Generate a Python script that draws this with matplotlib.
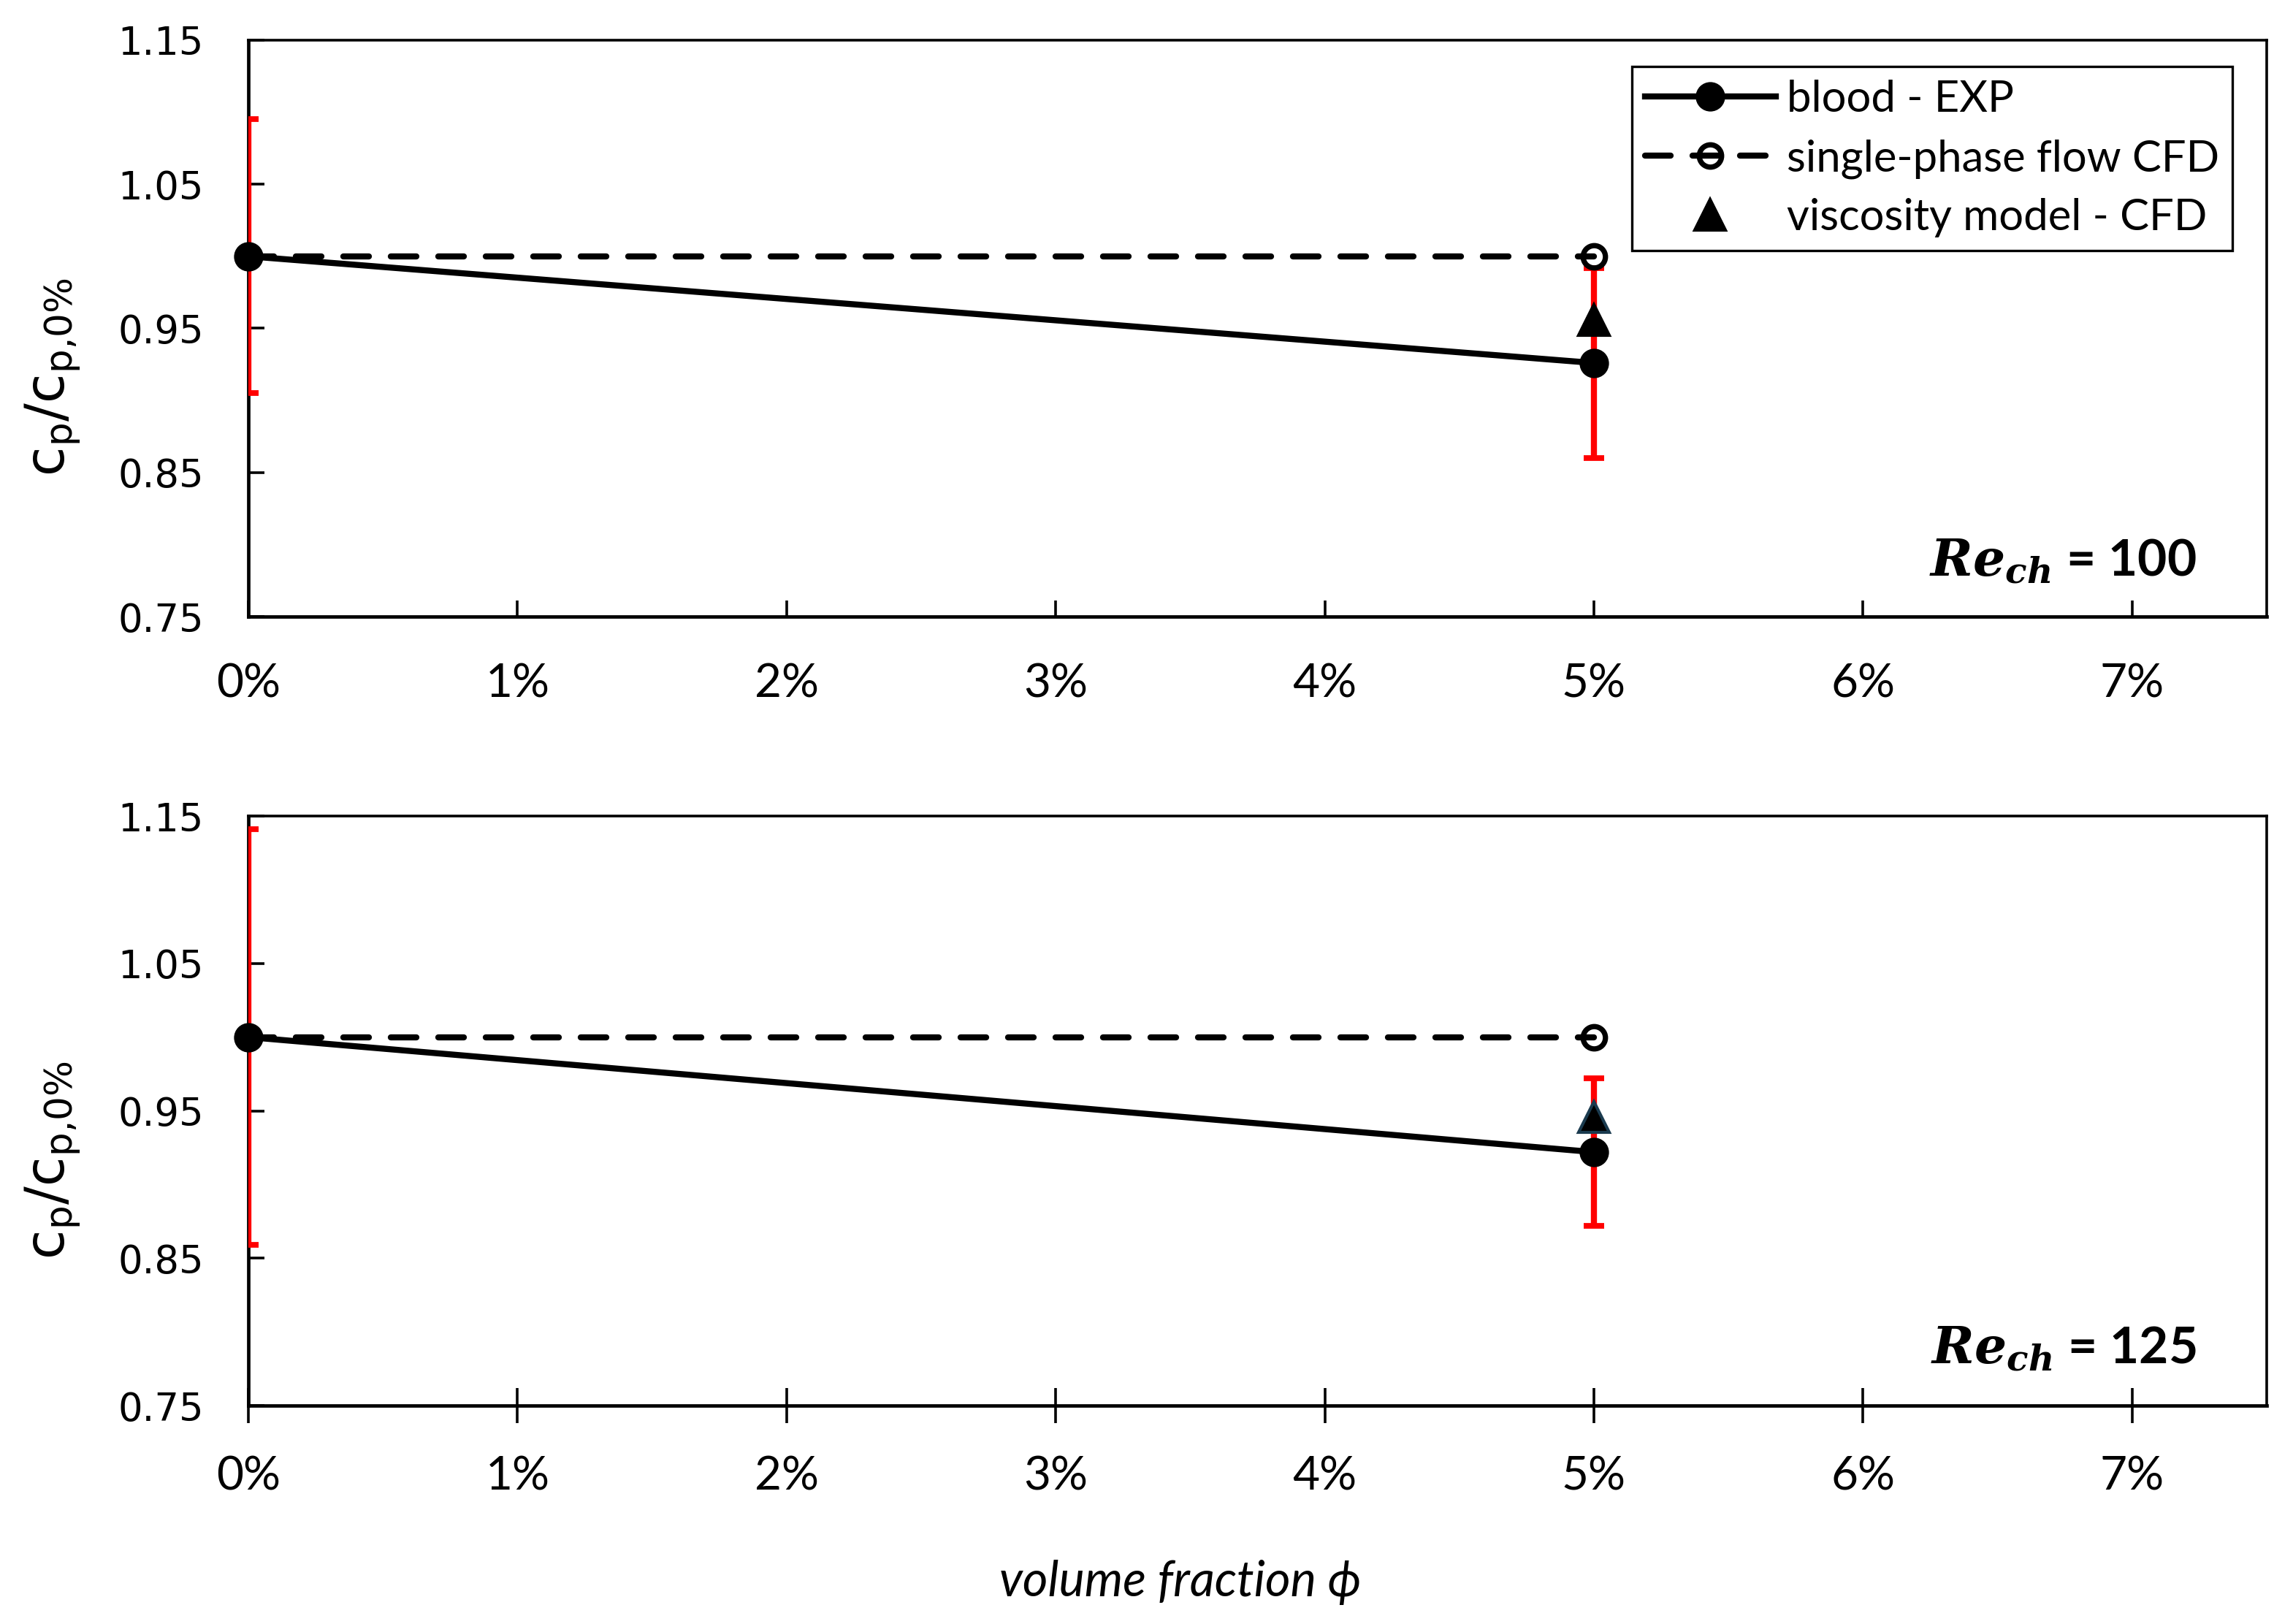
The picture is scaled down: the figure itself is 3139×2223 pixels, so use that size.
import numpy as np
import matplotlib.pyplot as plt
from matplotlib.ticker import FuncFormatter

plt.rcParams['mathtext.fontset'] = 'custom'
plt.rcParams['mathtext.it'] = 'DejaVu Serif:italic:bold'
plt.rcParams['mathtext.rm'] = 'DejaVu Serif:bold'

# data
phi = [0.0, 0.05]
re_labels = ['100', '125']

blood_exp = [[1.0, 0.926], [1.0, 0.922]]
blood_err = [[0.095, 0.066], [0.141, 0.050]]
single_cfd = [[1.0, 1.0], [1.0, 1.0]]
visc_cfd = [[0.956], [0.946]]
visc_edge = ['black', '#1b3b4f']

x_ticks = [0.0, 0.01, 0.02, 0.03, 0.04, 0.05, 0.06, 0.07]
y_ticks = [0.75, 0.85, 0.95, 1.05, 1.15]

tick_font = ['Lato', 'DejaVu Sans']

fig = plt.figure(figsize=(15.695, 11.115), dpi=200)
ax_top = fig.add_axes([0.1083, 0.6203, 0.8802, 0.3550])
ax_bot = fig.add_axes([0.1083, 0.1345, 0.8802, 0.3630])

for i, ax in enumerate([ax_top, ax_bot]):
    # error bars clipped at the axis (half of the bar at 0% shows over the spine)
    ax.errorbar(phi, blood_exp[i], yerr=blood_err[i], fmt='none', ecolor='red',
                elinewidth=3.0, capsize=5, capthick=2.8, zorder=2.6)
    ax.plot(phi, single_cfd[i], color='black', lw=3.0, ls=(0, (4.2, 3.6)),
            dash_capstyle='round', marker='o', ms=11, mfc='none', mec='black',
            mew=2.6, clip_on=False, zorder=3, label='single-phase flow CFD')
    ax.plot(phi, blood_exp[i], color='black', lw=3.0, marker='o', ms=13.5,
            clip_on=False, zorder=4, label='blood - EXP')
    ax.plot(phi[1:], visc_cfd[i], ls='none', marker='^', ms=15, color='black',
            mec=visc_edge[i], mew=1.5, clip_on=False, zorder=5,
            label='viscosity model - CFD')

    ax.set_xlim(0, 0.075)
    ax.set_ylim(0.75, 1.15)
    ax.set_xticks(x_ticks)
    ax.set_yticks(y_ticks)
    ax.xaxis.set_major_formatter(FuncFormatter(lambda v, p: f'{v*100:.0f}%'))
    ax.yaxis.set_major_formatter(FuncFormatter(lambda v, p: f'{v:.2f}'))
    ax.tick_params(axis='y', direction='in', length=8, width=1.3, pad=22,
                   labelsize=19)
    ax.tick_params(axis='x', direction='in' if i == 0 else 'inout',
                   length=8 if i == 0 else 17, width=1.3,
                   pad=23 if i == 0 else 16, labelsize=23)
    for lab in ax.get_xticklabels():
        lab.set_family(tick_font)
    for side in ['top', 'right']:
        ax.spines[side].set_linewidth(1.3)
    for side in ['left', 'bottom']:
        ax.spines[side].set_linewidth(1.7)

    ax.set_ylabel(r'c$_\mathregular{p}$/c$_\mathregular{p{,}0\%}$', fontsize=26.5,
                  family='DejaVu Sans')
    ax.yaxis.set_label_coords(-0.082, 0.416)

    ax.text(0.965, 0.095, r'$Re_{ch}$ = ' + re_labels[i], transform=ax.transAxes,
            ha='right', va='center', fontsize=25, fontweight='bold',
            family=tick_font)

handles, labels = ax_top.get_legend_handles_labels()
order = [1, 0, 2]
leg = ax_top.legend([handles[k] for k in order], [labels[k] for k in order],
                    loc='upper right', bbox_to_anchor=(0.983, 0.954),
                    borderaxespad=0, fancybox=False, framealpha=1,
                    edgecolor='black', handlelength=3.0, handletextpad=0.25,
                    labelspacing=0.45, borderpad=0.3,
                    prop={'family': tick_font, 'size': 21.5})
leg.get_frame().set_linewidth(1.2)

fig.text(0.5148, 0.0256, 'volume fraction ϕ', ha='center', va='center',
         fontsize=24, style='italic', family=tick_font)

fig.savefig('out.png', dpi=200)
